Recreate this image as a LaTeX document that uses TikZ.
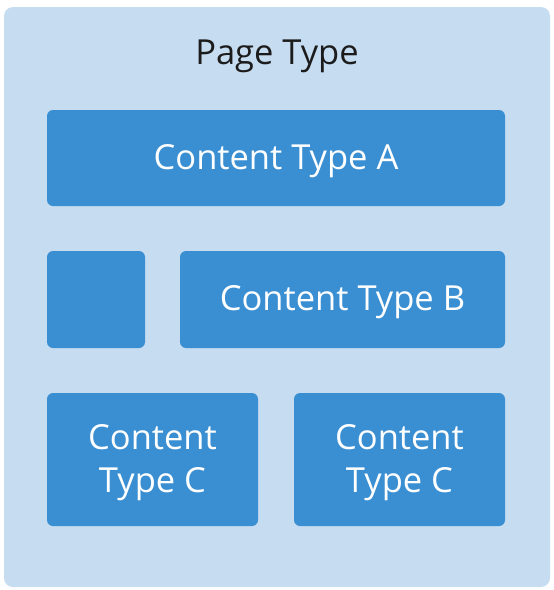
\documentclass[tikz,border=0pt]{standalone}
\usepackage{fontspec}
\setmainfont{Open Sans}
\definecolor{pagebg}{HTML}{C6DCF0}
\definecolor{boxblue}{HTML}{3A8FD2}
\definecolor{titletext}{HTML}{1C1C1C}
\begin{document}
\begin{tikzpicture}[x=1pt,y=-1pt,
  pagebox/.style={fill=pagebg, rounded corners=9pt},
  ctbox/.style={fill=boxblue, rounded corners=6pt},
  cttext/.style={text=white, font=\fontsize{34.5}{43}\selectfont, align=center, inner sep=0pt},
]
\useasboundingbox (0,0) rectangle (554,590);
\fill[pagebox] (4,7) rectangle (550,587);
\node[font=\fontsize{34.5}{43}\selectfont, text=titletext] (title) at (277,56) {Page Type};
\node[ctbox, minimum width=458pt, minimum height=96pt] (a) at (276,158) {};
\node[cttext] (at) at (276,161) {Content Type A};
\node[ctbox, minimum width=98pt, minimum height=97pt] (s) at (96,299.5) {};
\node[ctbox, minimum width=325pt, minimum height=97pt] (b) at (342.5,299.5) {};
\node[cttext] (bt) at (342.5,302.5) {Content Type B};
\node[ctbox, minimum width=211pt, minimum height=133pt] (c1) at (152.5,459.5) {};
\node[cttext] (c1t) at (152.5,462.5) {Content\\Type C};
\node[ctbox, minimum width=211pt, minimum height=133pt] (c2) at (399.5,459.5) {};
\node[cttext] (c2t) at (399.5,462.5) {Content\\Type C};
\end{tikzpicture}
\end{document}
